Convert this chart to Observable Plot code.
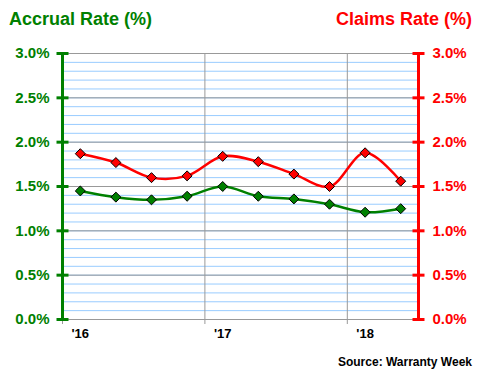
<!DOCTYPE html>
<html>
<head>
<meta charset="utf-8">
<script src="https://cdn.jsdelivr.net/npm/d3@7"></script>
<script src="https://cdn.jsdelivr.net/npm/@observablehq/plot@0.6"></script>
<style>
  html, body { margin: 0; padding: 0; background: #fff; }
  #wrap { position: relative; width: 480px; height: 380px; font-family: "Liberation Sans", Arial, sans-serif; }
  .lbl { position: absolute; font-weight: bold; white-space: nowrap; }
</style>
</head>
<body>
<div id="wrap">
  <div class="lbl" style="left:9px; top:9px; font-size:18px; color:#008000;">Accrual Rate (%)</div>
  <div class="lbl" style="right:8px; top:9px; font-size:18px; color:#ff0000;">Claims Rate (%)</div>
  <div class="lbl" style="right:8px; top:355px; font-size:12px; color:#000;">Source: Warranty Week</div>
</div>
<script>
// Data
const quarters = ["1Q16","2Q16","3Q16","4Q16","1Q17","2Q17","3Q17","4Q17","1Q18","2Q18"];
const accrualRate = [1.45, 1.38, 1.35, 1.39, 1.50, 1.39, 1.36, 1.30, 1.21, 1.25];
const claimsRate  = [1.87, 1.77, 1.60, 1.62, 1.84, 1.78, 1.64, 1.50, 1.88, 1.56];
const yearTicks = [2016, 2017, 2018];
const yearLabels = ["'16", "'17", "'18"];
const yTicks = [0, 0.5, 1.0, 1.5, 2.0, 2.5, 3.0];
const minorTicks = d3.range(0, 31).map(i => i / 10);

// quarter label -> mid-quarter position on a continuous year axis
const qPos = q => 2000 + +q.slice(2) + (+q[0] - 1) * 0.25 + 0.125;

const rows = quarters.map((q, i) => ({q, x: qPos(q), accrual: accrualRate[i], claims: claimsRate[i]}));
const labelRows = yearTicks.map((y, i) => ({x: y + 0.125, label: yearLabels[i]}));

const hDash = {draw(ctx) { ctx.moveTo(-6, 0); ctx.lineTo(6, 0); }};
const fmt = d => d.toFixed(1) + "%";

const plot = Plot.plot({
  width: 480,
  height: 380,
  marginLeft: 62,
  marginRight: 62,
  marginTop: 53,
  marginBottom: 61,
  style: {fontFamily: "Liberation Sans, Arial, sans-serif", background: "transparent"},
  x: {domain: [2016, 2018.5], label: null},
  y: {domain: [0, 3], label: null},
  marks: [
    Plot.ruleY(minorTicks, {stroke: "#99ccff", strokeWidth: 1}),
    Plot.ruleY(yTicks, {stroke: "#999999", strokeWidth: 1}),
    Plot.ruleX(yearTicks.slice(1), {stroke: "#999999", strokeWidth: 1}),
    Plot.axisX(yearTicks, {tickSize: 5, stroke: "#999999", tickFormat: null, text: null, label: null}),
    Plot.text(labelRows, {x: "x", text: "label", frameAnchor: "bottom", dy: 18, fontSize: 13, fontWeight: "bold", fill: "#000"}),
    Plot.ruleX([2016], {stroke: "#008000", strokeWidth: 3}),
    Plot.ruleX([2018.5], {stroke: "#ff0000", strokeWidth: 3}),
    Plot.dot(yTicks, {y: d => d, frameAnchor: "left", symbol: hDash, stroke: "#008000", strokeWidth: 3, r: 6}),
    Plot.dot(yTicks, {y: d => d, frameAnchor: "right", symbol: hDash, stroke: "#ff0000", strokeWidth: 3, r: 6}),
    Plot.axisY(yTicks, {anchor: "left", tickSize: 0, tickPadding: 13, tickFormat: fmt, fill: "#008000", fontSize: 15, fontWeight: "bold", label: null}),
    Plot.axisY(yTicks, {anchor: "right", tickSize: 0, tickPadding: 14, tickFormat: fmt, fill: "#ff0000", fontSize: 15, fontWeight: "bold", label: null}),
    Plot.line(rows, {x: "x", y: "claims", stroke: "#ff0000", strokeWidth: 2.5, curve: "catmull-rom"}),
    Plot.line(rows, {x: "x", y: "accrual", stroke: "#008000", strokeWidth: 2.5, curve: "catmull-rom"}),
    Plot.dot(rows, {x: "x", y: "claims", symbol: "diamond2", r: 4.5, fill: "#ff0000", stroke: "#000", strokeWidth: 1}),
    Plot.dot(rows, {x: "x", y: "accrual", symbol: "diamond2", r: 4.5, fill: "#008000", stroke: "#000", strokeWidth: 1})
  ]
});
plot.style.position = "absolute";
plot.style.left = "0px";
plot.style.top = "0px";
document.getElementById("wrap").appendChild(plot);
</script>
</body>
</html>
